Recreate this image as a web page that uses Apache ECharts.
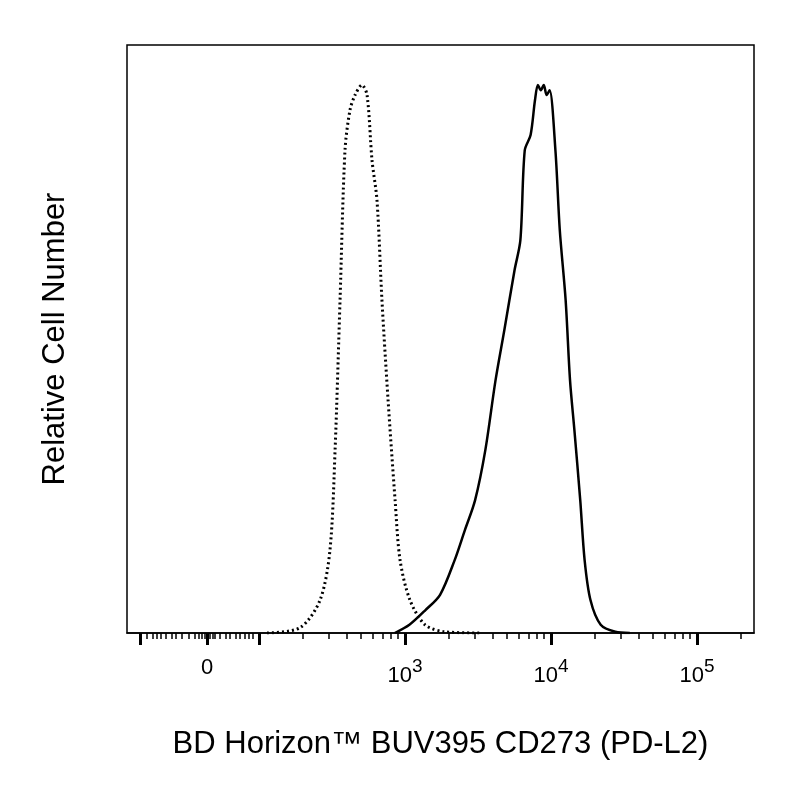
<!DOCTYPE html>
<html><head><meta charset="utf-8">
<script src="https://cdn.jsdelivr.net/npm/echarts@6/dist/echarts.min.js"></script>
<style>html,body{margin:0;background:#fff}#c{width:800px;height:800px}</style>
</head><body><div id="c"></div>
<script>
// x values are display units: 3 = 10^3, 4 = 10^4 ... ; zero sits at 1.644 (biexponential)
const xMin = 1.096, xMax = 5.39
const zeroPos = 1.644
const majorTicks = [1.185, zeroPos, 2, 3, 4, 5]
const labelTicks = [zeroPos, 3, 4, 5]
const labelText = ['0', '10{s|3}', '10{s|4}', '10{s|5}']
const minorTicks = [1.23, 1.27, 1.30, 1.33, 1.36, 1.40, 1.43, 1.47, 1.52, 1.56, 1.59, 1.61, 1.63, 1.66, 1.68, 1.70, 1.73, 1.77, 1.80, 1.84, 1.87, 1.90, 1.93, 1.96,
  2.30, 2.48, 2.60, 2.70, 2.78, 2.85, 2.90, 2.95, 3.30, 3.48, 3.60, 3.70, 3.78, 3.85, 3.90, 3.95, 4.30, 4.48, 4.60, 4.70, 4.78, 4.85, 4.90, 4.95, 5.30]

const isoX = [2.055, 2.281, 2.418, 2.486, 2.521, 2.555, 2.589, 2.623, 2.658, 2.705, 2.740, 2.774, 2.808, 2.842, 2.884, 2.932, 2.966, 3.034, 3.137, 3.274, 3.514]
const isoY = [0, 0.9, 5.6, 14.1, 31.1, 56.6, 82.1, 88.9, 91.5, 93.2, 91.5, 80.4, 73.6, 56.6, 39.6, 22.6, 12.4, 5.6, 1.4, 0.2, 0]

const stainX = [2.93, 3.03, 3.14, 3.24, 3.34, 3.41, 3.48, 3.55, 3.62, 3.68, 3.75, 3.79, 3.82, 3.86, 3.89, 3.91, 3.93, 3.95, 3.97, 3.99, 4.03, 4.06, 4.10, 4.13, 4.16, 4.20, 4.23, 4.27, 4.34, 4.44, 4.54]
const stainY = [0, 1.4, 3.9, 6.5, 12.4, 17.5, 22.6, 31.1, 43, 51.5, 61.7, 66.8, 82.1, 84.7, 90.6, 93.2, 92.3, 93.2, 91.5, 92.3, 82.1, 68.5, 56.6, 43, 34.5, 22.6, 12.4, 5.6, 1.4, 0.2, 0]

const font = '"Liberation Sans", Arial, sans-serif'
const zip = (xs, ys) => xs.map((x, i) => [x, ys[i]])

const chart = echarts.init(document.getElementById('c'))
chart.setOption({
  animation: false,
  grid: { left: 127, right: 46, top: 45, bottom: 167, show: true, borderColor: '#000', borderWidth: 1.5 },
  xAxis: [{
    type: 'value', min: xMin, max: xMax, position: 'bottom',
    name: 'BD Horizon™ BUV395 CD273 (PD-L2)', nameLocation: 'middle', nameGap: 96,
    nameTextStyle: { fontFamily: font, fontSize: 31, color: '#000' },
    axisLine: { lineStyle: { color: '#000', width: 1.5 } },
    splitLine: { show: false },
    axisTick: { length: 12, lineStyle: { width: 3, color: '#000' }, customValues: majorTicks },
    axisLabel: {
      customValues: labelTicks, margin: 24,
      formatter: v => labelText[labelTicks.indexOf(v)],
      fontFamily: font, fontSize: 22, color: '#000',
      rich: { s: { fontFamily: font, fontSize: 19, verticalAlign: 'top', padding: [0, 0, 18, 0] } }
    }
  }, {
    type: 'value', min: xMin, max: xMax, position: 'bottom',
    axisLine: { show: false }, splitLine: { show: false },
    axisTick: { length: 6, lineStyle: { width: 1.5, color: '#000' }, customValues: minorTicks },
    axisLabel: { show: false }
  }],
  yAxis: {
    type: 'value', min: 0, max: 100,
    name: 'Relative Cell Number', nameLocation: 'middle', nameGap: 56,
    nameTextStyle: { fontFamily: font, fontSize: 31, color: '#000' },
    axisLine: { show: false }, axisTick: { show: false }, axisLabel: { show: false }, splitLine: { show: false }
  },
  series: [
    { type: 'line', data: zip(isoX, isoY), smooth: 0.3, symbol: 'none', lineStyle: { color: '#000', width: 3, type: [2, 3] } },
    { type: 'line', data: zip(stainX, stainY), smooth: 0.3, symbol: 'none', lineStyle: { color: '#000', width: 2.5 } }
  ]
})
</script></body></html>
